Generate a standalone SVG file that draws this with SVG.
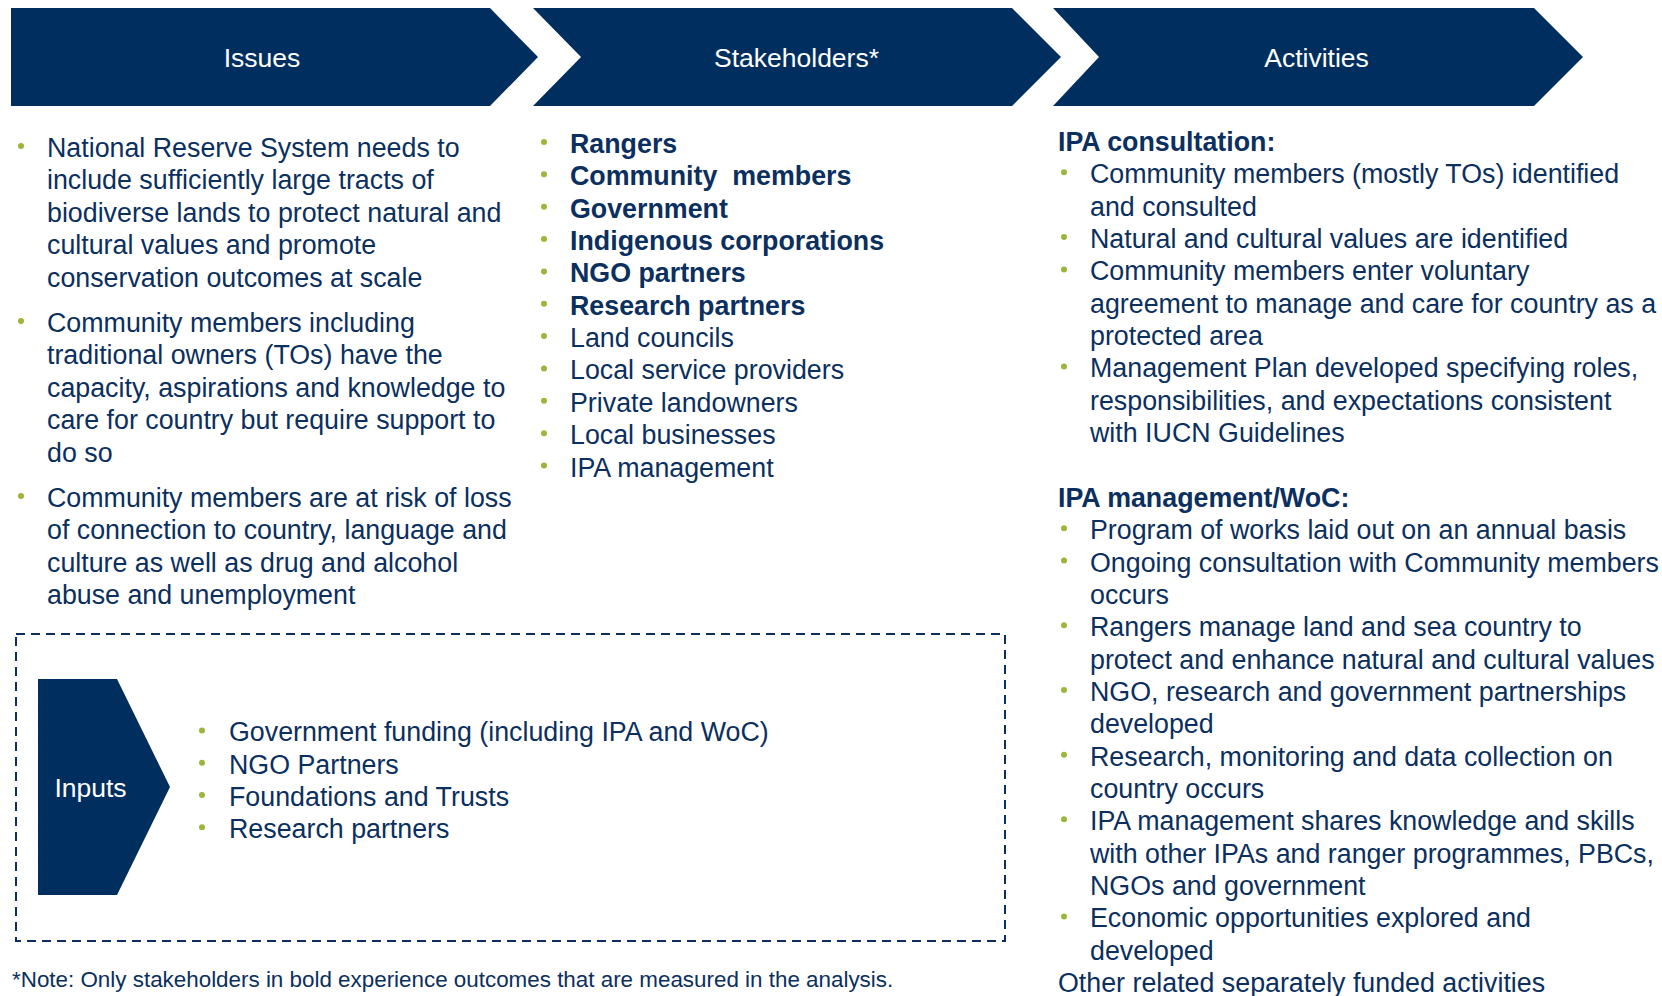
<svg xmlns="http://www.w3.org/2000/svg" width="1662" height="996" viewBox="0 0 1662 996">
<style>
  .chev { fill: #002F5F; }
  .hd { font-family: "Liberation Sans", Arial, sans-serif; font-size: 26.5px; fill: #ffffff; text-anchor: middle; }
  .t { font-family: "Liberation Sans", Arial, sans-serif; font-size: 26.8px; fill: #0B2F5E; }
  .b { font-weight: bold; }
  .note { font-family: "Liberation Sans", Arial, sans-serif; font-size: 22.4px; fill: #0B2F5E; }
  .dot { fill: #9CB53B; }
  .box { fill: none; stroke: #0B2F5E; stroke-width: 2; stroke-dasharray: 9 6; }
</style>
<rect width="1662" height="996" fill="#ffffff"/>

<g id="issues-header">
  <polygon class="chev" points="11,8 490,8 538,57 490,106 11,106"/>
  <text class="hd" x="262" y="66.5">Issues</text>
</g>
<g id="stakeholders-header">
  <polygon class="chev" points="533,8 1012,8 1061,57 1012,106 533,106 581,57"/>
  <text class="hd" x="796.5" y="66.5">Stakeholders*</text>
</g>
<g id="activities-header">
  <polygon class="chev" points="1053,8 1534,8 1583,57 1534,106 1053,106 1099,57"/>
  <text class="hd" x="1316.5" y="66.5">Activities</text>
</g>

<g id="issues-list">
  <circle class="dot" cx="21" cy="146" r="3"/>
  <text class="t" x="47" y="157">National Reserve System needs to</text>
  <text class="t" x="47" y="189.4">include sufficiently large tracts of</text>
  <text class="t" x="47" y="221.8">biodiverse lands to protect natural and</text>
  <text class="t" x="47" y="254.2">cultural values and promote</text>
  <text class="t" x="47" y="286.6">conservation outcomes at scale</text>
  <circle class="dot" cx="21" cy="321" r="3"/>
  <text class="t" x="47" y="332">Community members including</text>
  <text class="t" x="47" y="364.4">traditional owners (TOs) have the</text>
  <text class="t" x="47" y="396.8">capacity, aspirations and knowledge to</text>
  <text class="t" x="47" y="429.2">care for country but require support to</text>
  <text class="t" x="47" y="461.6">do so</text>
  <circle class="dot" cx="21" cy="496" r="3"/>
  <text class="t" x="47" y="507">Community members are at risk of loss</text>
  <text class="t" x="47" y="539.4">of connection to country, language and</text>
  <text class="t" x="47" y="571.8">culture as well as drug and alcohol</text>
  <text class="t" x="47" y="604.2">abuse and unemployment</text>
</g>

<g id="stakeholders-list">
  <circle class="dot" cx="544" cy="142" r="3"/>
  <text class="t b" x="570" y="153">Rangers</text>
  <circle class="dot" cx="544" cy="174.35" r="3"/>
  <text class="t b" x="570" y="185.35" style="white-space:pre">Community  members</text>
  <circle class="dot" cx="544" cy="206.7" r="3"/>
  <text class="t b" x="570" y="217.7">Government</text>
  <circle class="dot" cx="544" cy="239.05" r="3"/>
  <text class="t b" x="570" y="250.05">Indigenous corporations</text>
  <circle class="dot" cx="544" cy="271.4" r="3"/>
  <text class="t b" x="570" y="282.4">NGO partners</text>
  <circle class="dot" cx="544" cy="303.75" r="3"/>
  <text class="t b" x="570" y="314.75">Research partners</text>
  <circle class="dot" cx="544" cy="336.1" r="3"/>
  <text class="t" x="570" y="347.1">Land councils</text>
  <circle class="dot" cx="544" cy="368.45" r="3"/>
  <text class="t" x="570" y="379.45">Local service providers</text>
  <circle class="dot" cx="544" cy="400.8" r="3"/>
  <text class="t" x="570" y="411.8">Private landowners</text>
  <circle class="dot" cx="544" cy="433.15" r="3"/>
  <text class="t" x="570" y="444.15">Local businesses</text>
  <circle class="dot" cx="544" cy="465.5" r="3"/>
  <text class="t" x="570" y="476.5">IPA management</text>
</g>

<g id="activities-list">
  <text class="t b" x="1058" y="151">IPA consultation:</text>
  <circle class="dot" cx="1064" cy="172.35" r="3"/>
  <text class="t" x="1090" y="183.35">Community members (mostly TOs) identified</text>
  <text class="t" x="1090" y="215.7">and consulted</text>
  <circle class="dot" cx="1064" cy="237.05" r="3"/>
  <text class="t" x="1090" y="248.05">Natural and cultural values are identified</text>
  <circle class="dot" cx="1064" cy="269.4" r="3"/>
  <text class="t" x="1090" y="280.4">Community members enter voluntary</text>
  <text class="t" x="1090" y="312.75">agreement to manage and care for country as a</text>
  <text class="t" x="1090" y="345.1">protected area</text>
  <circle class="dot" cx="1064" cy="366.45" r="3"/>
  <text class="t" x="1090" y="377.45">Management Plan developed specifying roles,</text>
  <text class="t" x="1090" y="409.8">responsibilities, and expectations consistent</text>
  <text class="t" x="1090" y="442.15">with IUCN Guidelines</text>

  <text class="t b" x="1058" y="506.85">IPA management/WoC:</text>
  <circle class="dot" cx="1064" cy="528.2" r="3"/>
  <text class="t" x="1090" y="539.2">Program of works laid out on an annual basis</text>
  <circle class="dot" cx="1064" cy="560.55" r="3"/>
  <text class="t" x="1090" y="571.55">Ongoing consultation with Community members</text>
  <text class="t" x="1090" y="603.9">occurs</text>
  <circle class="dot" cx="1064" cy="625.25" r="3"/>
  <text class="t" x="1090" y="636.25">Rangers manage land and sea country to</text>
  <text class="t" x="1090" y="668.6">protect and enhance natural and cultural values</text>
  <circle class="dot" cx="1064" cy="689.95" r="3"/>
  <text class="t" x="1090" y="700.95">NGO, research and government partnerships</text>
  <text class="t" x="1090" y="733.3">developed</text>
  <circle class="dot" cx="1064" cy="754.65" r="3"/>
  <text class="t" x="1090" y="765.65">Research, monitoring and data collection on</text>
  <text class="t" x="1090" y="798">country occurs</text>
  <circle class="dot" cx="1064" cy="819.35" r="3"/>
  <text class="t" x="1090" y="830.35">IPA management shares knowledge and skills</text>
  <text class="t" x="1090" y="862.7">with other IPAs and ranger programmes, PBCs,</text>
  <text class="t" x="1090" y="895.05">NGOs and government</text>
  <circle class="dot" cx="1064" cy="916.4" r="3"/>
  <text class="t" x="1090" y="927.4">Economic opportunities explored and</text>
  <text class="t" x="1090" y="959.75">developed</text>
  <text class="t" x="1058" y="992.1">Other related separately funded activities</text>
</g>

<g id="inputs">
  <rect class="box" x="16" y="634" width="989" height="307"/>
  <polygon class="chev" points="38,679 117,679 170,787 117,895 38,895"/>
  <text class="hd" x="90.5" y="796.5">Inputs</text>
  <circle class="dot" cx="202" cy="730.4" r="3"/>
  <text class="t" x="229" y="741.4">Government funding (including IPA and WoC)</text>
  <circle class="dot" cx="202" cy="762.7" r="3"/>
  <text class="t" x="229" y="773.7">NGO Partners</text>
  <circle class="dot" cx="202" cy="795" r="3"/>
  <text class="t" x="229" y="806">Foundations and Trusts</text>
  <circle class="dot" cx="202" cy="827.3" r="3"/>
  <text class="t" x="229" y="838.3">Research partners</text>
</g>

<g id="connectors"></g>

<g id="note">
  <text class="note" x="12" y="986.5">*Note: Only stakeholders in bold experience outcomes that are measured in the analysis.</text>
</g>
</svg>
